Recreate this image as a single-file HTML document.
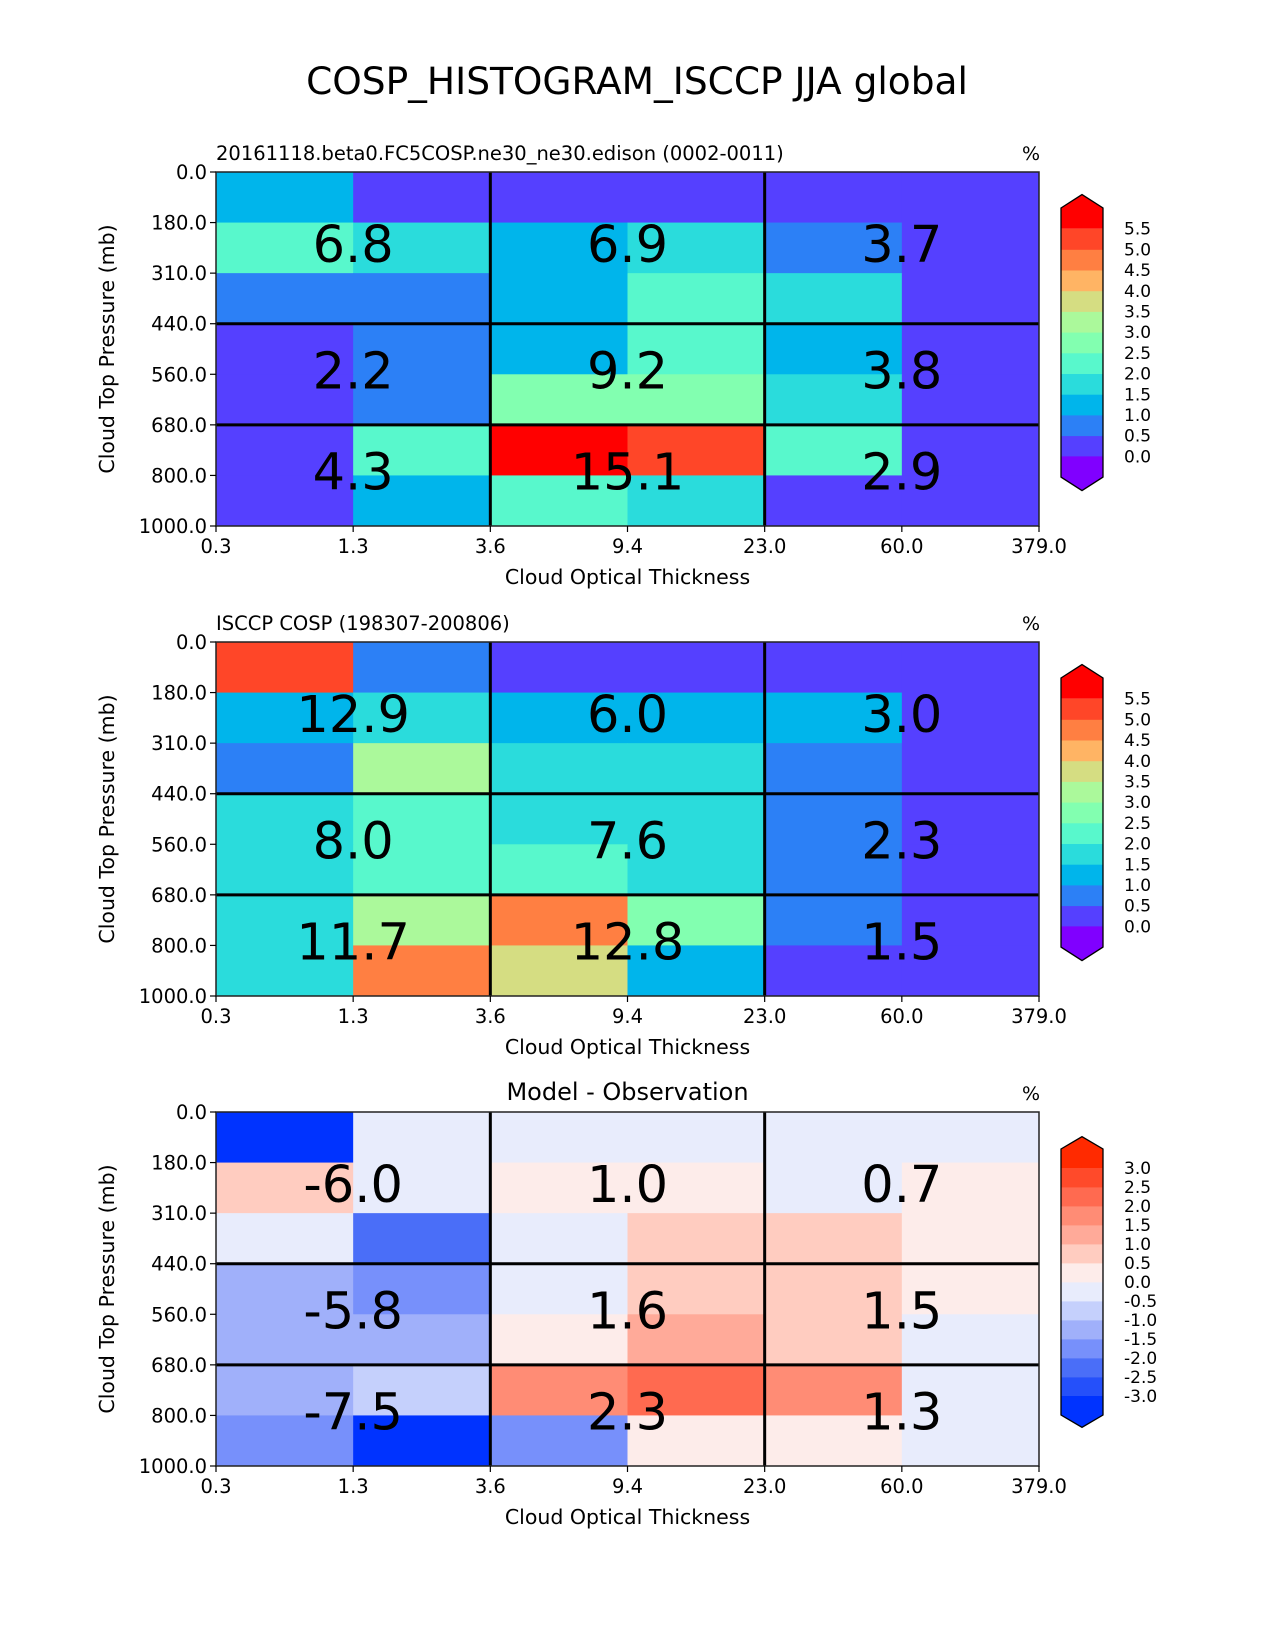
<!DOCTYPE html>
<html><head><meta charset="utf-8"><style>
body{margin:0;background:#fff;}
svg{display:block;font-family:"DejaVu Sans","Liberation Sans",sans-serif;}
</style></head><body>
<svg id="fig" width="1275" height="1650" viewBox="0 0 1275 1650" xmlns="http://www.w3.org/2000/svg">
<text x="637" y="94" font-size="37.5" text-anchor="middle">COSP_HISTOGRAM_ISCCP JJA global</text>
</svg>
<script>
const xTicks = ["0.3","1.3","3.6","9.4","23.0","60.0","379.0"];
const yTicks = ["0.0","180.0","310.0","440.0","560.0","680.0","800.0","1000.0"];
const modelVals = [
 [1.2,0.2,0.2,0.2,0.2,0.2],
 [2.2,1.7,1.2,1.7,0.7,0.2],
 [0.7,0.7,1.2,2.2,1.7,0.2],
 [0.2,0.7,1.2,2.2,1.2,0.2],
 [0.2,0.7,2.7,2.7,1.7,0.2],
 [0.2,2.2,6.0,5.2,2.2,0.2],
 [0.2,1.2,2.2,1.7,0.2,0.2]];
const obsVals = [
 [5.2,0.7,0.2,0.2,0.2,0.2],
 [1.2,1.7,1.2,1.2,1.2,0.2],
 [0.7,3.2,1.7,1.7,0.7,0.2],
 [1.7,2.2,1.7,1.7,0.7,0.2],
 [1.7,2.2,2.2,1.7,0.7,0.2],
 [1.7,3.2,4.7,2.7,0.7,0.2],
 [1.7,4.7,3.7,1.2,0.2,0.2]];
const diffVals = [
 [-3.5,-0.2,-0.2,-0.2,-0.2,-0.2],
 [0.7,-0.2,0.2,0.2,-0.2,0.2],
 [-0.2,-2.2,-0.2,0.7,0.7,0.2],
 [-1.2,-1.7,-0.2,0.7,0.7,0.2],
 [-1.2,-1.2,0.2,1.2,0.7,-0.2],
 [-1.2,-0.7,1.7,2.2,1.7,-0.2],
 [-1.7,-3.5,-1.7,0.2,0.2,-0.2]];
const modelTotals = ["6.8","6.9","3.7","2.2","9.2","3.8","4.3","15.1","2.9"];
const obsTotals = ["12.9","6.0","3.0","8.0","7.6","2.3","11.7","12.8","1.5"];
const diffTotals = ["-6.0","1.0","0.7","-5.8","1.6","1.5","-7.5","2.3","1.3"];
const seqLevels = [0,0.5,1,1.5,2,2.5,3,3.5,4,4.5,5,5.5];
const seqColors = ["#8000ff","#5540ff","#2c80f6","#00b5eb","#2adcdc","#58f8cc","#82ffb0","#abf99b","#d5dd82","#ffb464","#ff7f42","#ff4628","#ff0000"];
const divLevels = [-3,-2.5,-2,-1.5,-1,-0.5,0,0.5,1,1.5,2,2.5,3];
const divColors = ["#0033ff","#2550fa","#4a6ef8","#7790fb","#a0b0fa","#c5d0fc","#e8ecfc","#fdecea","#ffccc0","#ffaa99","#ff8c75","#ff6a50","#ff4a2a","#ff2a00"];

const NS="http://www.w3.org/2000/svg";
const svg=document.getElementById('fig');
function mk(tag,attrs,parent){const e=document.createElementNS(NS,tag);for(const k in attrs)e.setAttribute(k,attrs[k]);(parent||svg).appendChild(e);return e;}
function colorFor(v,levels,colors){let i=0;while(i<levels.length&&v>=levels[i])i++;return colors[i];}
const L=216,R=1039,H=354;
const xs=i=>L+(R-L)*i/6;
function panel(top,vals,totals,levels,colors,subtitle,center,name){
  const g=mk('g',{});
  
  
  const ys=j=>top+H*j/7;
  for(let r=0;r<7;r++)for(let c=0;c<6;c++){
    const rc=mk('rect',{x:xs(c),y:ys(r),width:xs(c+1)-xs(c)+0.5,height:ys(r+1)-ys(r)+0.5,fill:colorFor(vals[r][c],levels,colors)},g);
    
    
  }
  [2,4].forEach(i=>mk('line',{x1:xs(i),x2:xs(i),y1:top,y2:top+H,stroke:'#000','stroke-width':3},g));
  [3,5].forEach(j=>mk('line',{x1:L,x2:R,y1:ys(j),y2:ys(j),stroke:'#000','stroke-width':3},g));
  mk('rect',{x:L,y:top,width:R-L,height:H,fill:'none',stroke:'#222','stroke-width':1.5},g);
  const gy=[[0,3],[3,5],[5,7]];
  for(let a=0;a<3;a++)for(let b=0;b<3;b++){
    const t=mk('text',{x:xs(1+2*b),y:(ys(gy[a][0])+ys(gy[a][1]))/2+14,'font-size':51,'text-anchor':'middle'},g);
    t.textContent=totals[a*3+b];
    
    
  }
  xTicks.forEach((s,i)=>{mk('line',{x1:xs(i),x2:xs(i),y1:top+H,y2:top+H+6,stroke:'#000','stroke-width':1.2},g);
    const t=mk('text',{x:xs(i),y:top+H+27,'font-size':19.5,'text-anchor':'middle'},g);t.textContent=s;
    });
  yTicks.forEach((s,j)=>{const y=top+H*j/7;mk('line',{x1:L-6,x2:L,y1:y,y2:y,stroke:'#000','stroke-width':1.2},g);
    const t=mk('text',{x:L-9,y:y+7,'font-size':19.5,'text-anchor':'end'},g);t.textContent=s;
    });
  const xl=mk('text',{x:(L+R)/2,y:top+H+58,'font-size':20.5,'text-anchor':'middle'},g);xl.textContent='Cloud Optical Thickness';
  
  const yl=mk('text',{x:0,y:0,'font-size':20.5,'text-anchor':'middle',transform:`translate(114,${top+H/2}) rotate(-90)`},g);yl.textContent='Cloud Top Pressure (mb)';
  
  const st=mk('text',{x:center?(L+R)/2:L,y:top-12,'font-size':center?24:19.5,'text-anchor':center?'middle':'start'},g);st.textContent=subtitle;
  
  const pc=mk('text',{x:R-8,y:top-12,'font-size':19,'text-anchor':'middle'},g);pc.textContent='%';
  
  const n=colors.length, bh=(n===13)?20.7:19, cx0=1061,cx1=1103;
  const ctop=(n===13)?top+36:top+37;
  const cb=mk('g',{},g);
  
  
  const bot=ctop+n*bh;
  mk('polygon',{points:`${cx0},${ctop+bh} ${cx0},${ctop} ${(cx0+cx1)/2},${ctop-bh*0.65} ${cx1},${ctop} ${cx1},${ctop+bh}`,fill:colors[n-1]},cb);
  for(let k=1;k<n-1;k++){mk('rect',{x:cx0,y:ctop+(n-1-k)*bh,width:cx1-cx0,height:bh+0.4,fill:colors[k]},cb);}
  mk('polygon',{points:`${cx0},${bot-bh} ${cx0},${bot} ${(cx0+cx1)/2},${bot+bh*0.65} ${cx1},${bot} ${cx1},${bot-bh}`,fill:colors[0]},cb);
  mk('polygon',{points:`${cx0},${ctop} ${(cx0+cx1)/2},${ctop-bh*0.65} ${cx1},${ctop} ${cx1},${bot} ${(cx0+cx1)/2},${bot+bh*0.65} ${cx0},${bot}`,fill:'none',stroke:'#000','stroke-width':1.3},cb);
  levels.forEach((v,k)=>{const y=bot-bh*(k+1);
    const t=mk('text',{x:1124,y:y+6,'font-size':17},cb);t.textContent=v.toFixed(1);
    });
}
panel(172,modelVals,modelTotals,seqLevels,seqColors,"20161118.beta0.FC5COSP.ne30_ne30.edison (0002-0011)",false,'model-panel');
panel(642,obsVals,obsTotals,seqLevels,seqColors,"ISCCP COSP (198307-200806)",false,'obs-panel');
panel(1112,diffVals,diffTotals,divLevels,divColors,"Model - Observation",true,'diff-panel');
</script>
</body></html>
